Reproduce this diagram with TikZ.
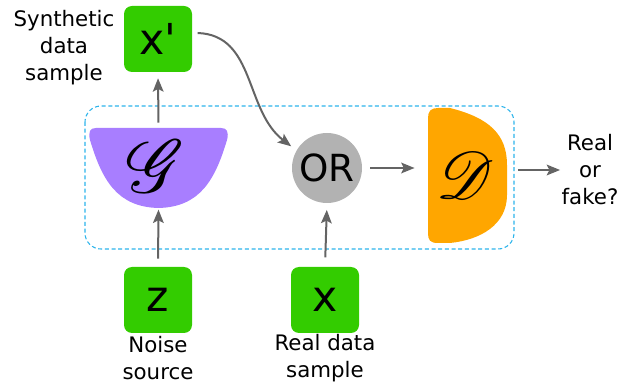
\documentclass[tikz,border=0pt]{standalone}
\usepackage{fontspec}
\setmainfont{DejaVu Sans}
\usepackage{mathrsfs}
\usetikzlibrary{arrows.meta}
\definecolor{boxgreen}{RGB}{51,204,0}
\definecolor{genpurple}{RGB}{168,126,255}
\definecolor{discorange}{RGB}{255,166,0}
\definecolor{orgray}{RGB}{178,178,178}
\definecolor{framecyan}{RGB}{45,180,235}
\definecolor{arrowgray}{RGB}{100,100,100}

\tikzset{
  sample/.style={fill=boxgreen, rounded corners=6pt, minimum width=51pt, minimum height=49.5pt, inner sep=0pt, font=\fontsize{32}{32}\selectfont},
  caption/.style={align=center, inner sep=0pt, font=\fontsize{16}{20.25}\selectfont},
  flow/.style={draw=arrowgray, line width=1.5pt, -{Stealth[length=10pt,width=8pt,inset=2pt]}},
}
% script letters are only cut up to about 25pt, so blow them up
\newcommand{\bigscr}[2]{\scalebox{#1}{\fontsize{20}{20}\selectfont$\mathscr{#2}$}}

\begin{document}
\begin{tikzpicture}[x=0.75pt, y=-0.75pt]
\useasboundingbox (0,0) rectangle (636,388);

% dashed frame round G, OR and D
\draw[framecyan, line width=0.8pt, dash pattern=on 3pt off 2pt, rounded corners=12pt] (85,106) rectangle (514,249);

% generator bowl
\fill[genpurple] (96,128) -- (221,128) .. controls (227,128) and (229,132) .. (227,140)
  .. controls (215,180) and (200,207) .. (158.5,208)
  .. controls (117,207) and (102,180) .. (90,140)
  .. controls (88,132) and (90,128) .. (96,128) -- cycle;

% discriminator
\fill[discorange] (438,108) -- (450,108) .. controls (490,118) and (507,135) .. (507,165)
  -- (507,195) .. controls (507,225) and (480,240) .. (450,243)
  -- (438,243) .. controls (430,243) and (428,240) .. (428,233)
  -- (428,118) .. controls (428,111) and (431,108) .. (438,108) -- cycle;

\node[inner sep=0pt, minimum width=103pt, minimum height=60pt] (gen) at (158.5,168) {};
\node[inner sep=0pt] (genlbl) at (156,166) {\bigscr{2.7}{G}};
\node[inner sep=0pt, minimum width=59pt, minimum height=101pt] (disc) at (467.5,175.5) {};
\node[inner sep=0pt] (disclbl) at (465,175) {\bigscr{2.4}{D}};

\node[sample] (xfake) at (158,39) {x\textquotesingle};
\node[sample] (z) at (158,300) {z};
\node[sample] (x) at (325,300) {x};
\node[circle, fill=orgray, minimum size=52.5pt, inner sep=0pt, font=\fontsize{28}{28}\selectfont] (or) at (327,168) {OR};

\node[caption] (synlbl) at (64,48) {Synthetic\\data\\sample};
\node[caption] (noiselbl) at (158,358) {Noise\\source};
\node[caption] (reallbl) at (325,358) {Real data\\sample};
\node[caption] (verdict) at (590,170) {Real\\or\\fake?};

\draw[flow, shorten <=3.75pt, shorten >=4.5pt] (gen.north) -- (xfake.south);
\draw[flow, shorten <=6pt, shorten >=1pt] (z.north) -- (gen.south);
\draw[flow, shorten <=7pt, shorten >=5pt] (x.north) -- (or.south);
\draw[flow, shorten <=6pt, shorten >=10pt] (or.east) -- (or.east -| disc.west);
\draw[flow, shorten <=8pt, shorten >=1pt] (disc.east |- verdict.west) -- (verdict.west);
\draw[flow, shorten >=5pt] ([xshift=4pt, yshift=4.5pt]xfake.east) .. controls +(58,2) and +(-52,-40) .. (or.150);
\end{tikzpicture}
\end{document}
